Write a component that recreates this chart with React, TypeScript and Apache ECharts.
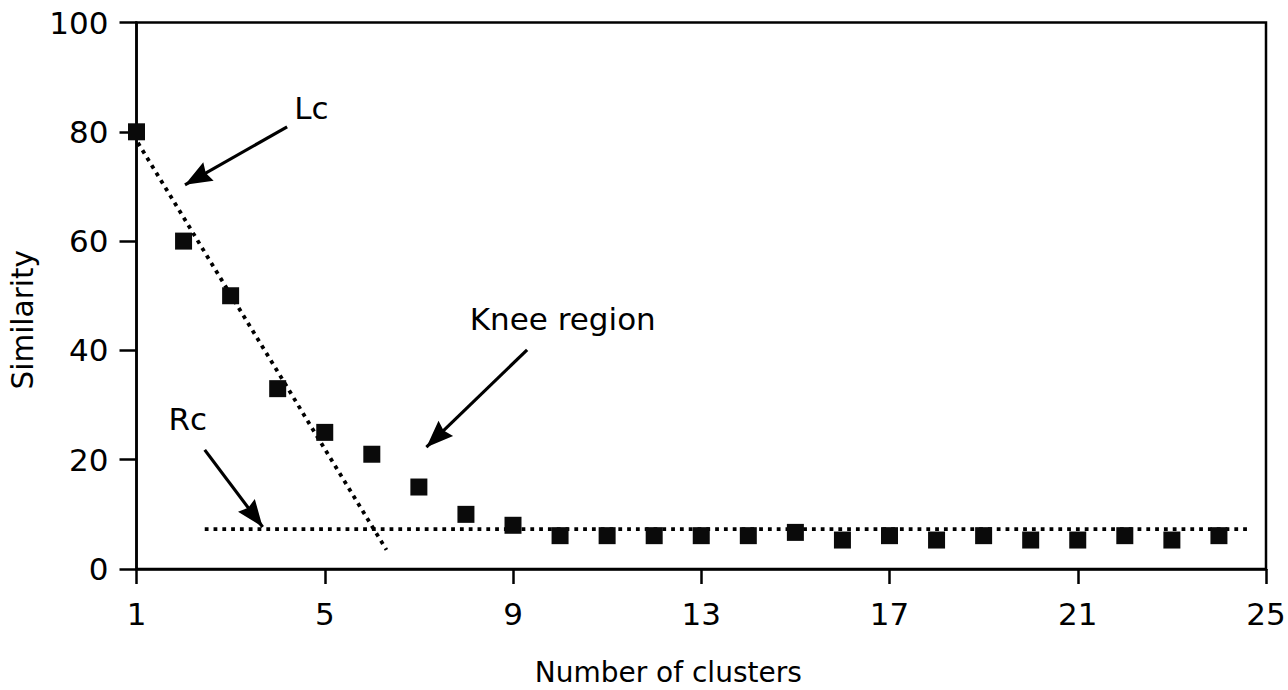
import React, { useEffect, useRef } from "react";
import * as echarts from "echarts";

// Cluster counts on the x axis and the similarity score for each
const clusterCounts = [1, 2, 3, 4, 5, 6, 7, 8, 9, 10, 11, 12, 13, 14, 15, 16, 17, 18, 19, 20, 21, 22, 23, 24];
const similarity = [80, 60, 50, 33, 25, 21, 15, 10, 8, 6.1, 6.1, 6.1, 6.1, 6.1, 6.7, 5.3, 6.1, 5.3, 6.1, 5.3, 5.3, 6.1, 5.3, 6.1];

// Fitted lines: Lc (left, steep) and Rc (right, flat)
const lcLine = [[1.03, 78], [6.31, 3.5]];
const rcLine = [[2.45, 7.3], [24.6, 7.3]];

// Annotation arrows: [from, to] in data coordinates
const arrowLc = [[4.2, 80.9], [2.03, 70.3]];
const arrowKnee = [[9.3, 40.1], [7.16, 22.3]];
const arrowRc = [[2.45, 21.8], [3.68, 7.7]];

// Annotation texts and their anchor points (left edge, vertical middle)
const noteNames = ["Lc", "Knee region", "Rc"];
const notePositions = [[4.34, 84.4], [8.07, 45.7], [1.67, 27.5]];

const xTicks = { min: 1, max: 25, interval: 4 };
const yTicks = { min: 0, max: 100, interval: 20 };

const FONT = "DejaVu Sans";
const INK = "#000";
// Arrowhead: a slightly notched triangle pointing up
const ARROW_HEAD = "path://M10 0 L20 26 L10 23 L0 26 Z";

export default function App() {
  const ref = useRef<HTMLDivElement>(null);

  useEffect(() => {
    if (!ref.current) return;
    const chart = echarts.init(ref.current, null, { renderer: "svg" });

    const arrowItem = (seg: number[][]) => [
      { coord: seg[0], symbol: "none" },
      { coord: seg[1], symbol: ARROW_HEAD, symbolSize: [21, 27], symbolOffset: [0, 13.5] },
    ];

    const dotted = { color: INK, width: 3.8, type: [3.8, 5] as any, cap: "butt" as const };

    chart.setOption({
      animation: false,
      grid: {
        left: 136.5,
        right: 22,
        top: 22.5,
        bottom: 121,
        show: true,
        borderColor: INK,
        borderWidth: 2.5,
        outerBoundsMode: "none",
      },
      xAxis: {
        type: "value",
        min: xTicks.min,
        max: xTicks.max,
        interval: xTicks.interval,
        name: "Number of clusters",
        nameLocation: "middle",
        nameGap: 89,
        nameTextStyle: {
          fontFamily: FONT,
          fontSize: 28,
          lineHeight: 28,
          color: INK,
          padding: [0, 66, 0, 0],
        },
        axisLine: { show: true, lineStyle: { color: INK, width: 2.5 } },
        axisTick: { show: true, length: 15, lineStyle: { color: INK, width: 2.5 } },
        axisLabel: {
          margin: 29,
          fontFamily: FONT,
          fontSize: 31,
          lineHeight: 31,
          color: INK,
          showMinLabel: true,
          showMaxLabel: true,
        },
        splitLine: { show: false },
      },
      yAxis: {
        type: "value",
        min: yTicks.min,
        max: yTicks.max,
        interval: yTicks.interval,
        name: "Similarity",
        nameLocation: "middle",
        nameRotate: 90,
        nameGap: 91,
        nameTextStyle: {
          fontFamily: FONT,
          fontSize: 29.5,
          lineHeight: 29.5,
          color: INK,
          padding: [0, 48, 0, 0],
        },
        axisLine: { show: true, lineStyle: { color: INK, width: 2.5 } },
        axisTick: { show: true, length: 17, lineStyle: { color: INK, width: 2.5 } },
        axisLabel: {
          margin: 28,
          fontFamily: FONT,
          fontSize: 31,
          color: INK,
          showMinLabel: true,
          showMaxLabel: true,
        },
        splitLine: { show: false },
      },
      series: [
        {
          name: "Lc",
          type: "line",
          data: lcLine,
          showSymbol: false,
          symbol: "none",
          lineStyle: dotted,
          silent: true,
          z: 2,
          markLine: {
            silent: true,
            animation: false,
            label: { show: false },
            emphasis: { disabled: true },
            lineStyle: { color: INK, width: 3.2, type: "solid", opacity: 1 },
            itemStyle: { color: INK },
            data: [arrowItem(arrowLc), arrowItem(arrowKnee), arrowItem(arrowRc)],
          },
        },
        {
          name: "Rc",
          type: "line",
          data: rcLine,
          showSymbol: false,
          symbol: "none",
          lineStyle: dotted,
          silent: true,
          z: 2,
        },
        {
          name: "Similarity",
          type: "scatter",
          data: clusterCounts.map((c, i) => [c, similarity[i]]),
          symbol: "rect",
          symbolSize: 17,
          itemStyle: { color: "#0a0a0a", opacity: 1 },
          silent: true,
          z: 5,
        },
        {
          name: "Notes",
          type: "scatter",
          data: noteNames.map((n, i) => ({ name: n, value: notePositions[i] })),
          symbolSize: 1,
          itemStyle: { color: "rgba(0,0,0,0)", opacity: 1 },
          silent: true,
          label: {
            show: true,
            position: "right",
            distance: 0,
            formatter: "{b}",
            fontFamily: FONT,
            fontSize: 31,
            color: INK,
          },
          z: 6,
        },
      ],
    });

    return () => chart.dispose();
  }, []);

  return (
    <div
      ref={ref}
      style={{ position: "fixed", left: 0, top: 0, width: 1288, height: 690, background: "#fff" }}
    />
  );
}
